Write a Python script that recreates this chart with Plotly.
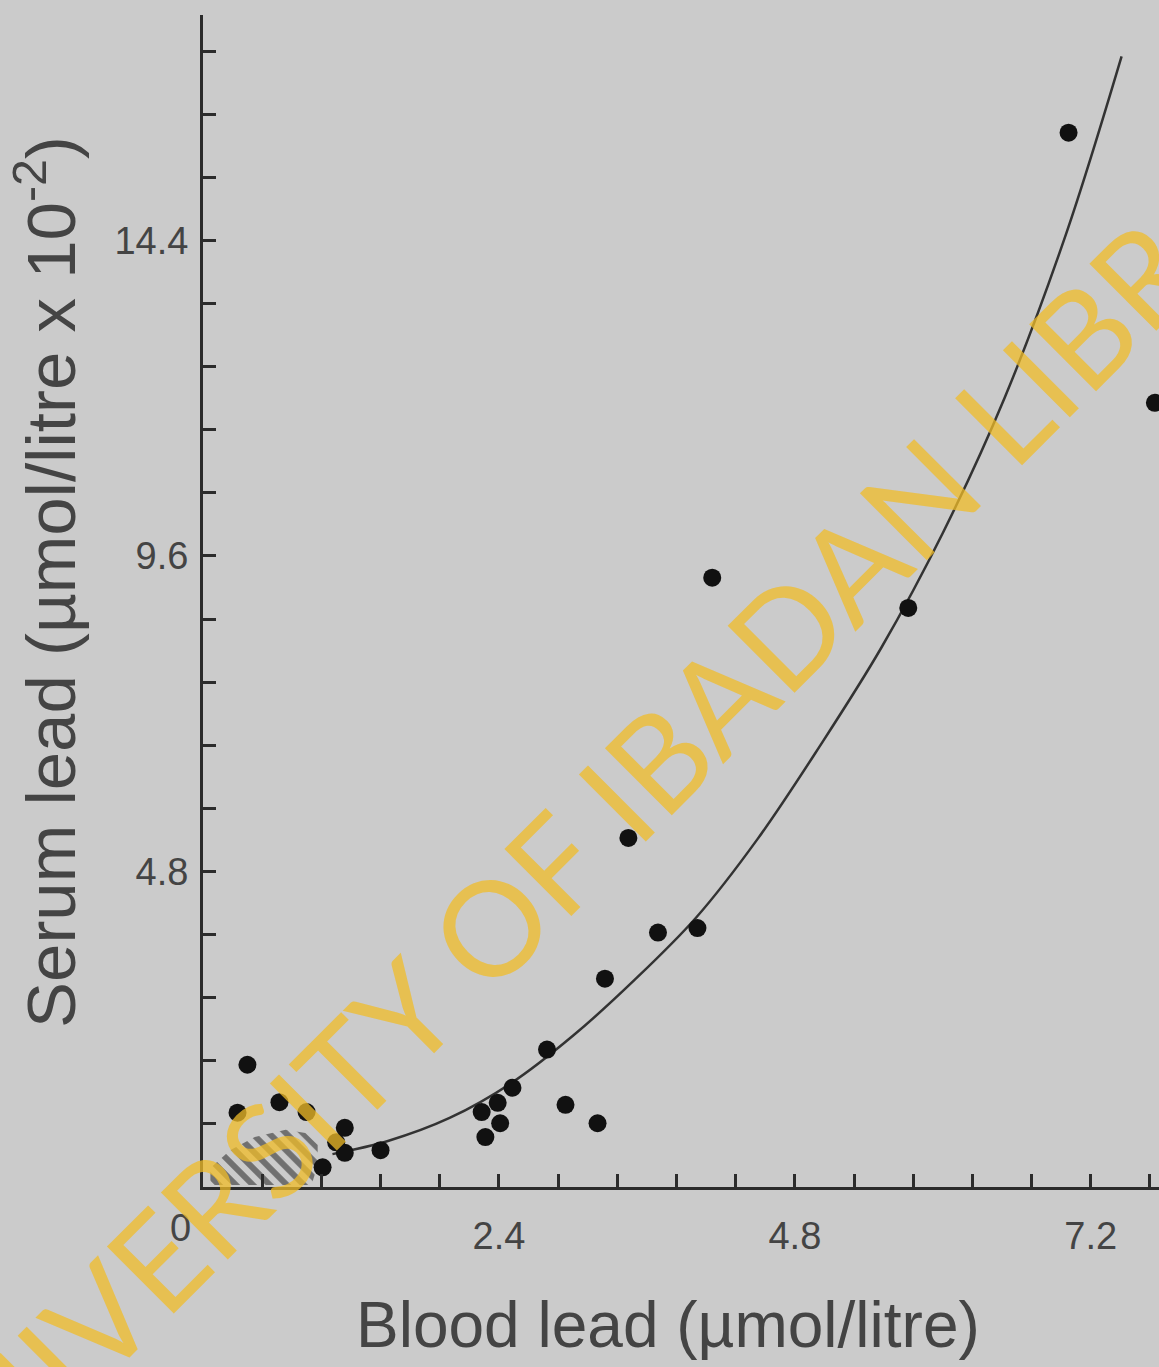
import plotly.graph_objects as go

# ---- data ----
blood_lead = [0.36, 0.62, 0.28, 0.84, 1.15, 1.08, 1.15, 0.97, 1.44,
              2.26, 2.39, 2.41, 2.29, 2.51, 2.79, 2.94, 3.20, 3.26,
              3.45, 3.69, 4.01, 4.13, 5.72, 7.02, 7.72]
serum_lead = [1.86, 1.29, 1.13, 1.14, 0.90, 0.68, 0.52, 0.30, 0.56,
              1.14, 1.28, 0.97, 0.76, 1.51, 2.09, 1.25, 0.97, 3.17,
              5.31, 3.87, 3.94, 9.27, 8.81, 16.04, 11.93]

curve_x = [1.05, 1.5, 2.0, 2.5, 3.0, 3.5, 4.0, 4.5, 5.0, 5.5, 6.0, 6.5, 7.0, 7.45]
curve_y = [0.50, 0.70, 1.05, 1.58, 2.30, 3.15, 4.10, 5.30, 6.70, 8.20, 9.95, 12.0, 14.5, 17.2]

normal_x = [0.06, 0.06, 0.22, 0.42, 0.67, 0.83, 0.93, 0.93, 0.88, 0.06]
normal_y = [0.03, 0.29, 0.56, 0.76, 0.87, 0.82, 0.64, 0.33, 0.03, 0.03]

x_tick_labels = ["2.4", "4.8", "7.2"]
y_tick_labels = ["4.8", "9.6", "14.4"]

x_title = "Blood lead (µmol/litre)"
y_title = "Serum lead (µmol/litre x 10<sup>-2</sup>)"
watermark = "UNIVERSITY OF IBADAN LIBRARY"

# ---- figure ----
BG = "#cbcbcb"
INK = "#2b2b2b"
TXT = "#444444"

fig = go.Figure()

fig.add_trace(go.Scatter(
    x=normal_x, y=normal_y, mode="lines", fill="toself",
    line=dict(width=0, color=INK),
    fillcolor="rgba(0,0,0,0)",
    fillpattern=dict(shape="\\", fgcolor="#151515", bgcolor="rgba(0,0,0,0)",
                     size=12, solidity=0.5),
    hoverinfo="skip", showlegend=False))

fig.add_trace(go.Scatter(
    x=curve_x, y=curve_y, mode="lines", line=dict(color="#333333", width=2.5, shape="spline"),
    showlegend=False))

fig.add_trace(go.Scatter(
    x=blood_lead, y=serum_lead, mode="markers",
    marker=dict(color="#111111", size=18, line=dict(width=0)),
    showlegend=False))

x_step = 0.48
y_step = 0.96
x_tickvals = [round(x_step * k, 2) for k in range(1, 17)]
x_ticktext = [f"{v:.1f}" if f"{v:.1f}" in x_tick_labels else "" for v in x_tickvals]
y_tickvals = [round(y_step * k, 2) for k in range(1, 19)]
y_ticktext = [f"{v:.1f}" if f"{v:.1f}" in y_tick_labels else "" for v in y_tickvals]

L, R, T, B = 203, 0, 15, 180
W, H = 1159, 1367

fig.update_layout(
    width=W, height=H,
    margin=dict(l=L, r=R, t=T, b=B, pad=0),
    paper_bgcolor=BG, plot_bgcolor=BG,
    font=dict(family="Liberation Sans, Arial, sans-serif", color=TXT),
    showlegend=False,
)

fig.update_xaxes(
    range=[0, (W - L) / 123.3], showgrid=False, zeroline=False,
    showline=True, linecolor=INK, linewidth=3,
    tickmode="array", tickvals=x_tickvals, ticktext=x_ticktext,
    ticks="inside", ticklen=13, tickwidth=3, tickcolor=INK,
    tickfont=dict(size=38, color=TXT), ticklabelstandoff=13,
)
fig.update_yaxes(
    range=[0, 17.83], showgrid=False, zeroline=False,
    showline=True, linecolor=INK, linewidth=3,
    tickmode="array", tickvals=y_tickvals, ticktext=y_ticktext,
    ticks="inside", ticklen=13, tickwidth=3, tickcolor=INK,
    tickfont=dict(size=38, color=TXT), ticklabelstandoff=4,
)

pw, ph = W - L - R, H - T - B

def px2paper(px, py):
    return (px - L) / pw, (H - B - py) / ph

def note(text, px, py, size, angle=0, family=None, color=TXT):
    ax, ay = px2paper(px, py)
    f = dict(size=size, color=color)
    if family:
        f["family"] = family
    fig.add_annotation(text=text, x=ax, y=ay, xref="paper", yref="paper",
                       xanchor="center", yanchor="middle",
                       showarrow=False, textangle=angle, font=f)

note("0", 180, 1228, 38)
note(x_title, 668, 1325, 64)
note(y_title, 46, 582, 69, angle=-90)
note(watermark, 624, 791, 132, angle=-45,
     family="Lato, Noto Sans, sans-serif", color="rgba(240,188,40,0.75)")

fig.write_html(
    "out.html",
    config={"displayModeBar": False},
    post_script="document.body.style.margin='0px';document.body.style.background='#cbcbcb';",
)
